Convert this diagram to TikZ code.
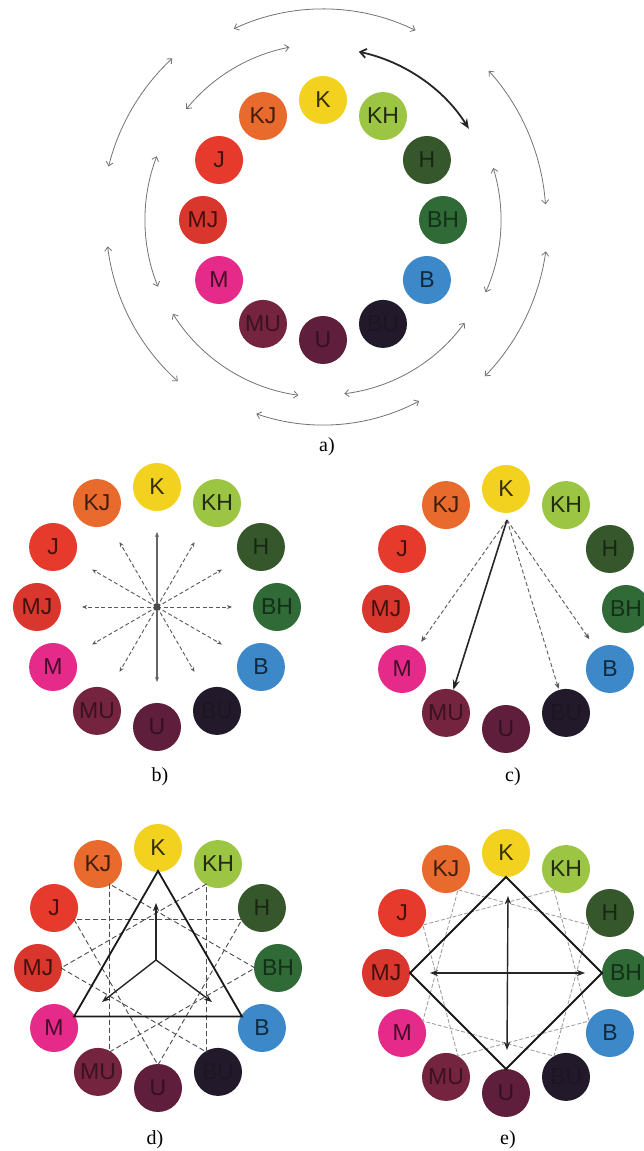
\documentclass[tikz,border=0pt]{standalone}
\usepackage{fontspec}
\setmainfont{Liberation Serif}
\setsansfont{Liberation Sans}
\usetikzlibrary{calc,arrows.meta}
\definecolor{cK}{HTML}{F2D21E}
\definecolor{cKH}{HTML}{9DC544}
\definecolor{cH}{HTML}{36572B}
\definecolor{cBH}{HTML}{2F6A37}
\definecolor{cB}{HTML}{3C88C9}
\definecolor{cBU}{HTML}{221A2A}
\definecolor{cU}{HTML}{5E1E3C}
\definecolor{cMU}{HTML}{74243F}
\definecolor{cM}{HTML}{E62A8A}
\definecolor{cMJ}{HTML}{D9372E}
\definecolor{cJ}{HTML}{E63A2C}
\definecolor{cKJ}{HTML}{E86A2D}
\colorlet{tK}{cK!22!black}
\colorlet{tKH}{cKH!22!black}
\colorlet{tH}{cH!45!black}
\colorlet{tBH}{cBH!45!black}
\colorlet{tB}{cB!30!black}
\colorlet{tBU}{cBU!82!black}
\colorlet{tU}{cU!55!black}
\colorlet{tMU}{cMU!50!black}
\colorlet{tM}{cM!30!black}
\colorlet{tMJ}{cMJ!30!black}
\colorlet{tJ}{cJ!30!black}
\colorlet{tKJ}{cKJ!28!black}
\newcommand{\drawwheel}[2]{%
  \foreach \n/\a in {K/90,KH/60,H/30,BH/0,B/-30,BU/-60,U/-90,MU/-120,M/-150,MJ/180,J/150,KJ/120}{
    \node[dot, fill=c\n, text=t\n] (#1\n) at ($(#2)+(\a:120)$) {\n};
  }}
\newcommand{\wheelverts}[3]{%
  \foreach \n/\a in {K/90,KH/60,H/30,BH/0,B/-30,BU/-60,U/-90,MU/-120,M/-150,MJ/180,J/150,KJ/120}{
    \coordinate (#1V\n) at ($(#2)+(\a:#3)$);
  }}
\tikzset{
  dot/.style={circle, minimum size=48pt, inner sep=0pt, font=\sffamily\fontsize{23}{23}\selectfont},
  panellabel/.style={font=\fontsize{20}{20}\selectfont},
  thinarc/.style={draw=black!55, line width=0.8pt, {Straight Barb[length=4pt,width=7pt]}-{Straight Barb[length=4pt,width=7pt]}},
  thickarc/.style={draw=black!85, line width=1.8pt, {Straight Barb[length=6pt,width=9pt]}-{Stealth[length=10pt,width=8pt]}},
  raydash/.style={draw=black!65, line width=0.9pt, dash pattern=on 4pt off 2.5pt, -{Stealth[length=5pt,width=4pt]}},
  raysolid/.style={draw=black!60, line width=1.3pt, -{Stealth[length=5pt,width=4pt]}},
  ctarrowdash/.style={draw=black!65, line width=0.9pt, dash pattern=on 4pt off 2.5pt, -{Stealth[length=6pt,width=5pt]}},
  ctarrow/.style={draw=black!85, line width=1.6pt, -{Stealth[length=10pt,width=7pt]}},
  polysolid/.style={draw=black!90, line width=1.8pt, line join=miter},
  polydash/.style={draw=black!70, line width=0.9pt, dash pattern=on 5pt off 3pt},
  polylight/.style={draw=black!40, line width=0.8pt, dash pattern=on 4pt off 2pt},
  innerarrow/.style={draw=black!85, line width=1.4pt, -{Stealth[length=8pt,width=6pt]}},
  innerdouble/.style={draw=black!85, line width=1.4pt, {Stealth[length=8pt,width=6pt]}-{Stealth[length=8pt,width=6pt]}}
}
\begin{document}
\begin{tikzpicture}[x=1pt,y=1pt]
\useasboundingbox (0,0) rectangle (643,1151);
\fill[white] (0,0) rectangle (643,1151);
% ---------- panel a ----------
\coordinate (aC) at (323,931);
\foreach \s/\e/\r [count=\i] in {101/141/176,159/202/178,212/262/177,277/324/175,336/377/178,
                                  64/115/211,133/166/221,187/228/217,251/298/205,316/352/225,4/42/223}{
  \coordinate (aS\i) at ($(aC)+(\s:\r)$);
  \draw[thinarc] (aS\i) arc[start angle=\s, end angle=\e, radius=\r];
}
\coordinate (aT) at ($(aC)+(78:172)$);
\draw[thickarc] (aT) arc[start angle=78, end angle=32, radius=172];
\drawwheel{a}{aC}
\node[panellabel] (alab) at (327,704) {a)};
% ---------- panel b ----------
\coordinate (bC) at (157,544);
\foreach \a in {0,30,60,120,150,180,210,240,300,330}{
  \coordinate (bT\a) at ($(bC)+(\a:75)$);
  \draw[raydash] (bC) -- (bT\a);
}
\foreach \a in {90,270}{
  \coordinate (bT\a) at ($(bC)+(\a:75)$);
  \draw[raysolid] (bC) -- (bT\a);
}
\fill[black!70] ($(bC)+(-3,-3)$) rectangle ($(bC)+(3,3)$);
\drawwheel{b}{bC}
\node[panellabel] (blab) at (160,374) {b)};
% ---------- panel c ----------
\coordinate (cC) at (506,542);
\drawwheel{c}{cC}
\coordinate (cS) at (507,631);
\draw[ctarrowdash, shorten >=9pt] (cS) -- (cM);
\draw[ctarrowdash, shorten >=1pt] (cS) -- (cBU);
\draw[ctarrowdash, shorten >=12pt] (cS) -- (cB);
\draw[ctarrow] (cS) -- (cMU);
\node[panellabel] (clab) at (513,374) {c)};
% ---------- panel d ----------
\coordinate (dC) at (158,183);
\drawwheel{d}{dC}
\wheelverts{d}{dC}{97}
\draw[polydash] (dVKH) -- (dVMJ) -- (dVBU) -- cycle;
\draw[polydash] (dVH) -- (dVJ) -- (dVU) -- cycle;
\draw[polydash] (dVBH) -- (dVKJ) -- (dVMU) -- cycle;
\draw[polysolid] (dVK) -- (dVM) -- (dVB) -- cycle;
\coordinate (dO) at (156,191);
\coordinate (dA1) at (156,248);
\coordinate (dA2) at (102,149);
\coordinate (dA3) at (212,149);
\draw[innerarrow] (dO) -- (dA1);
\draw[innerarrow] (dO) -- (dA2);
\draw[innerarrow] (dO) -- (dA3);
\node[panellabel] (dlab) at (155,11) {d)};
% ---------- panel e ----------
\coordinate (eC) at (506,178);
\drawwheel{e}{eC}
\wheelverts{e}{eC}{96}
\draw[polylight] (eVKH) -- (eVB) -- (eVMU) -- (eVJ) -- cycle;
\draw[polylight] (eVH) -- (eVBU) -- (eVM) -- (eVKJ) -- cycle;
\draw[polysolid] (eVK) -- (eVBH) -- (eVU) -- (eVMJ) -- cycle;
\coordinate (eA1) at (508,255);
\coordinate (eA2) at (507,101);
\coordinate (eA3) at (430,178);
\coordinate (eA4) at (585,178);
\draw[innerdouble] (eA1) -- (eA2);
\draw[innerdouble] (eA3) -- (eA4);
\node[panellabel] (elab) at (508,11) {e)};
\end{tikzpicture}
\end{document}
